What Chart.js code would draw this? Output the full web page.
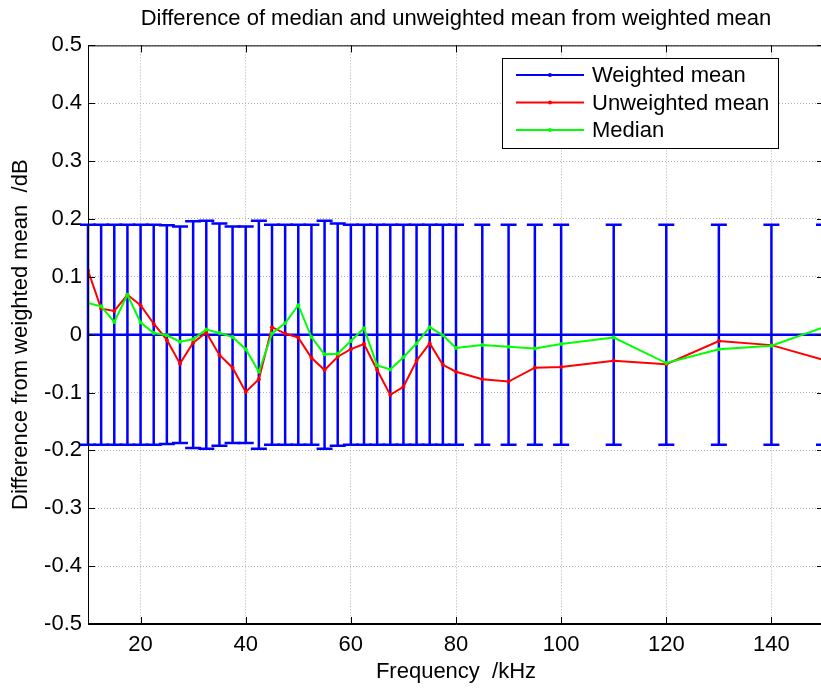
<!DOCTYPE html>
<html>
<head>
<meta charset="utf-8">
<title>Difference of median and unweighted mean from weighted mean</title>
<script src="https://cdn.jsdelivr.net/npm/chart.js@4/dist/chart.umd.min.js"></script>
<style>
  html, body { margin: 0; padding: 0; background: #fff; overflow: hidden; }
</style>
</head>
<body>
<canvas id="chartjs-0" width="830" height="688"></canvas>
<script>
"use strict";
/* frequency of each measurement, kHz */
var freq = [10, 12.5, 15, 17.5, 20, 22.5, 25, 27.5, 30, 32.5, 35, 37.5, 40, 42.5, 45, 47.5,
    50, 52.5, 55, 57.5, 60, 62.5, 65, 67.5, 70, 72.5, 75, 77.5, 80,
    85, 90, 95, 100, 110, 120, 130, 140, 150];

/* weighted mean is the reference, so it sits on zero */
var weightedMean = [0, 0, 0, 0, 0, 0, 0, 0, 0, 0, 0, 0, 0, 0, 0, 0,
    0, 0, 0, 0, 0, 0, 0, 0, 0, 0, 0, 0, 0,
    0, 0, 0, 0, 0, 0, 0, 0, 0];

/* half length of the error bars, dB */
var weightedErr = [0.19, 0.19, 0.19, 0.19, 0.19, 0.19, 0.189, 0.187, 0.196, 0.197, 0.192, 0.187, 0.187, 0.197, 0.19, 0.19,
    0.19, 0.19, 0.197, 0.192, 0.19, 0.19, 0.19, 0.19, 0.19, 0.19, 0.19, 0.19, 0.19,
    0.19, 0.19, 0.19, 0.19, 0.19, 0.19, 0.19, 0.19, 0.19];

var unweightedMean = [0.111, 0.045, 0.041, 0.069, 0.051, 0.019, -0.009, -0.050, -0.014, 0.004, -0.035, -0.057, -0.099, -0.077, 0.013, 0.002,
    -0.005, -0.040, -0.061, -0.038, -0.025, -0.016, -0.061, -0.104, -0.090, -0.045, -0.015, -0.052, -0.064,
    -0.077, -0.081, -0.057, -0.056, -0.045, -0.051, -0.011, -0.018, -0.044];

var median = [0.055, 0.049, 0.022, 0.069, 0.021, 0.003, -0.001, -0.012, -0.008, 0.009, 0.003, -0.004, -0.025, -0.064, 0.002, 0.020,
    0.051, -0.004, -0.034, -0.033, -0.011, 0.011, -0.053, -0.060, -0.039, -0.015, 0.013, -0.001, -0.023,
    -0.018, -0.021, -0.024, -0.016, -0.005, -0.049, -0.025, -0.019, 0.013];

var seriesNames = ["Weighted mean", "Unweighted mean", "Median"];

var xTicks = [20, 40, 60, 80, 100, 120, 140];
var xTickLabels = ["20", "40", "60", "80", "100", "120", "140"];
var yTicks = [-0.5, -0.4, -0.3, -0.2, -0.1, 0, 0.1, 0.2, 0.3, 0.4, 0.5];
var yTickLabels = ["-0.5", "-0.4", "-0.3", "-0.2", "-0.1", "0", "0.1", "0.2", "0.3", "0.4", "0.5"];

var FONT = "'Liberation Sans', Arial, Helvetica, sans-serif";

function toPoints(values) {
    var pts = [];
    for (var i = 0; i < freq.length; i++) {
        pts.push({ x: freq[i], y: values[i] });
    }
    return pts;
}

/* error bars of the weighted mean, drawn under the lines */
var errorBars = {
    id: "errorBars",
    beforeDatasetsDraw: function (chart) {
        var ctx = chart.ctx;
        var xs = chart.scales.x;
        var ys = chart.scales.y;
        var cap = 8;
        ctx.save();
        ctx.strokeStyle = "#0000ff";
        ctx.lineWidth = 2.5;
        for (var i = 0; i < freq.length; i++) {
            var px = xs.getPixelForValue(freq[i]);
            var top = ys.getPixelForValue(weightedMean[i] + weightedErr[i]);
            var bot = ys.getPixelForValue(weightedMean[i] - weightedErr[i]);
            ctx.beginPath();
            ctx.moveTo(px, top);
            ctx.lineTo(px, bot);
            ctx.moveTo(px - cap, top);
            ctx.lineTo(px + cap, top);
            ctx.moveTo(px - cap, bot);
            ctx.lineTo(px + cap, bot);
            ctx.stroke();
        }
        ctx.restore();
    }
};

/* box, inward ticks and legend drawn over the plot, matlab style */
var axesBox = {
    id: "axesBox",
    afterDraw: function (chart) {
        var ctx = chart.ctx;
        var a = chart.chartArea;
        var xs = chart.scales.x;
        var ys = chart.scales.y;
        var tl = 7;
        var i;
        ctx.save();
        ctx.setLineDash([]);
        ctx.strokeStyle = "#000";
        ctx.lineWidth = 1;
        ctx.beginPath();
        ctx.moveTo(a.left, a.top + 0.5);
        ctx.lineTo(a.right, a.top + 0.5);
        ctx.moveTo(a.left + 0.5, a.top);
        ctx.lineTo(a.left + 0.5, a.bottom);
        ctx.moveTo(a.left, a.bottom - 0.5);
        ctx.lineTo(a.right, a.bottom - 0.5);
        ctx.moveTo(a.right - 0.5, a.top);
        ctx.lineTo(a.right - 0.5, a.bottom);
        for (i = 0; i < xTicks.length; i++) {
            var px = Math.round(xs.getPixelForValue(xTicks[i])) + 0.5;
            ctx.moveTo(px, a.bottom);
            ctx.lineTo(px, a.bottom - tl);
            ctx.moveTo(px, a.top);
            ctx.lineTo(px, a.top + tl);
        }
        for (i = 0; i < yTicks.length; i++) {
            var py = Math.round(ys.getPixelForValue(yTicks[i])) + 0.5;
            ctx.moveTo(a.left, py);
            ctx.lineTo(a.left + tl, py);
            ctx.moveTo(a.right, py);
            ctx.lineTo(a.right - tl, py);
        }
        ctx.stroke();

        /* legend */
        var lx = 502, ly = 58, lw = 276, lh = 90;
        ctx.fillStyle = "#fff";
        ctx.fillRect(lx, ly, lw, lh);
        ctx.strokeRect(lx + 0.5, ly + 0.5, lw, lh);
        ctx.font = "22px " + FONT;
        ctx.textBaseline = "middle";
        ctx.textAlign = "left";
        var legendOrder = [0, 1, 2];
        for (i = 0; i < legendOrder.length; i++) {
            var ds = chart.data.datasets[legendOrder[i]];
            var ry = ly + 17 + i * 27.5;
            ctx.strokeStyle = ds.borderColor;
            ctx.lineWidth = 2;
            ctx.beginPath();
            ctx.moveTo(lx + 14, ry);
            ctx.lineTo(lx + 82, ry);
            ctx.stroke();
            ctx.fillStyle = ds.borderColor;
            ctx.beginPath();
            ctx.arc(lx + 48, ry, 2, 0, Math.PI * 2);
            ctx.fill();
            ctx.fillStyle = "#000";
            ctx.fillText(ds.label, lx + 90, ry + 1);
        }
        ctx.restore();
    }
};

var ctx = document.getElementById("chartjs-0");

var myChart = new Chart(ctx, {
    "type": "line",
    "data": {
        "datasets": [{
            label: seriesNames[0],
            data: toPoints(weightedMean),
            borderColor: "#0000ff",
            backgroundColor: "#0000ff",
            borderWidth: 2.5,
            pointRadius: 1.5,
            pointBorderWidth: 0,
            fill: false,
            order: 3
        }, {
            label: seriesNames[1],
            data: toPoints(unweightedMean),
            borderColor: "#ff0000",
            backgroundColor: "#ff0000",
            borderWidth: 2,
            pointRadius: 2,
            pointBorderWidth: 0,
            fill: false,
            order: 2
        }, {
            label: seriesNames[2],
            data: toPoints(median),
            borderColor: "#00ff00",
            backgroundColor: "#00ff00",
            borderWidth: 2,
            pointRadius: 2,
            pointBorderWidth: 0,
            fill: false,
            order: 1
        }]
    },
    "options": {
        responsive: false,
        animation: false,
        layout: { padding: { left: 0, right: 6, top: 0, bottom: 0 } },
        plugins: {
            legend: { display: false },
            tooltip: { enabled: false },
            title: {
                display: true,
                fullSize: false,
                text: "Difference of median and unweighted mean from weighted mean",
                color: "#000",
                font: { family: FONT, size: 22, weight: "normal" },
                padding: { top: 6, bottom: 13 }
            }
        },
        scales: {
            x: {
                type: "linear",
                min: 10,
                max: 150,
                afterBuildTicks: function (scale) {
                    scale.ticks = xTicks.map(function (v) { return { value: v }; });
                },
                afterFit: function (scale) { scale.height = 64; },
                ticks: {
                    autoSkip: false,
                    maxRotation: 0,
                    padding: 8,
                    color: "#000",
                    font: { family: FONT, size: 22 },
                    callback: function (v, i) { return xTickLabels[i]; }
                },
                grid: { color: "#b0b0b0", drawTicks: false },
                border: { color: "#000", width: 1, dash: [1, 2] },
                title: {
                    display: true,
                    text: "Frequency  /kHz",
                    color: "#000",
                    font: { family: FONT, size: 22 },
                    padding: { top: 0, bottom: 3 }
                }
            },
            y: {
                min: -0.5,
                max: 0.5,
                afterBuildTicks: function (scale) {
                    scale.ticks = yTicks.map(function (v) { return { value: v }; });
                },
                afterFit: function (scale) { scale.width = 88; },
                ticks: {
                    padding: 6,
                    color: "#000",
                    font: { family: FONT, size: 22 },
                    callback: function (v, i) { return yTickLabels[i]; }
                },
                grid: { color: "#b0b0b0", drawTicks: false },
                border: { color: "#000", width: 1, dash: [1, 2] },
                title: {
                    display: true,
                    text: "Difference from weighted mean  /dB",
                    color: "#000",
                    font: { family: FONT, size: 22 },
                    padding: { top: 8, bottom: 0 }
                }
            }
        }
    },
    plugins: [errorBars, axesBox]
});
</script>
</body>
</html>
